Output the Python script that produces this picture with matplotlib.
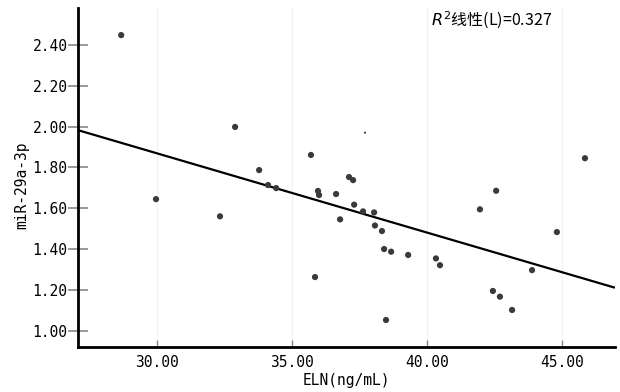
import matplotlib
matplotlib.use("Agg")
import matplotlib.pyplot as plt
import numpy as np

# ELN (ng/mL) vs miR-29a-3p
eln = [28.67, 29.96, 32.89, 32.33, 33.78, 34.11, 34.41, 35.70, 35.96, 36.00,
       35.85, 36.63, 36.78, 37.11, 37.26, 37.30, 37.63, 38.04, 38.07, 38.33,
       38.41, 38.67, 38.48, 39.30, 40.33, 40.48, 41.96, 42.56, 42.44, 42.70,
       43.15, 43.89, 44.81, 45.85]
mir = [2.447, 1.645, 1.998, 1.561, 1.787, 1.714, 1.699, 1.861, 1.685, 1.665,
       1.264, 1.670, 1.546, 1.753, 1.738, 1.618, 1.585, 1.580, 1.516, 1.489,
       1.401, 1.388, 1.054, 1.372, 1.355, 1.322, 1.595, 1.686, 1.196, 1.168,
       1.103, 1.298, 1.484, 1.845]

# stray tiny dot in the original
stray_x = [37.70]
stray_y = [1.970]

r2_text = "0.327"
x_ticks = [30, 35, 40, 45]
y_ticks = [1.0, 1.2, 1.4, 1.6, 1.8, 2.0, 2.2, 2.4]

mono = ["DejaVu Sans Mono", "Noto Sans CJK SC"]
plt.rcParams["mathtext.fontset"] = "dejavusans"

fig = plt.figure(figsize=(6.2, 3.92), dpi=100)
ax = fig.add_axes([0.1258, 0.1148, 0.866, 0.865])

ax.set_xlim(27.07, 46.96)
ax.set_ylim(0.922, 2.58)

# light vertical grid
for xt in x_ticks:
    ax.axvline(xt, color="#f0f0f0", linewidth=0.8, zorder=0)

# linear fit
slope, intercept = np.polyfit(eln, mir, 1)
xs = np.array(ax.get_xlim())
ax.plot(xs, intercept + slope * xs, color="black", linewidth=1.6, zorder=2,
        solid_capstyle="butt")

ax.scatter(eln, mir, s=20, color="#3a3a3a", edgecolors="none", zorder=3)
ax.scatter(stray_x, stray_y, s=2, color="#222222", edgecolors="none", zorder=3)

ax.set_xticks(x_ticks)
ax.set_xticklabels(["%.2f" % v for v in x_ticks], family=mono, fontsize=10.5)
ax.set_yticks(y_ticks)
ax.set_yticklabels(["%.2f" % v for v in y_ticks], family=mono, fontsize=10.5)

ax.tick_params(axis="x", direction="in", length=5, width=1, color="#888888", pad=6)
ax.tick_params(axis="y", direction="inout", length=15, width=1.2, color="#888888", pad=0)

for side in ["top", "right"]:
    ax.spines[side].set_visible(False)
for side in ["left", "bottom"]:
    ax.spines[side].set_linewidth(2)
    ax.spines[side].set_color("black")

ax.set_xlabel("ELN(ng/mL)", family=mono, fontsize=10.5, labelpad=2)
ax.set_ylabel("miR-29a-3p", family=mono, fontsize=10.5)
ax.yaxis.set_label_coords(-0.09, 0.478)

ax.text(0.771, 0.963, "$R^2$线性(L)=" + r2_text, transform=ax.transAxes,
        family=["Noto Sans CJK SC", "DejaVu Sans"], fontsize=11.5,
        ha="center", va="center")

fig.savefig("out.png", dpi=100)
